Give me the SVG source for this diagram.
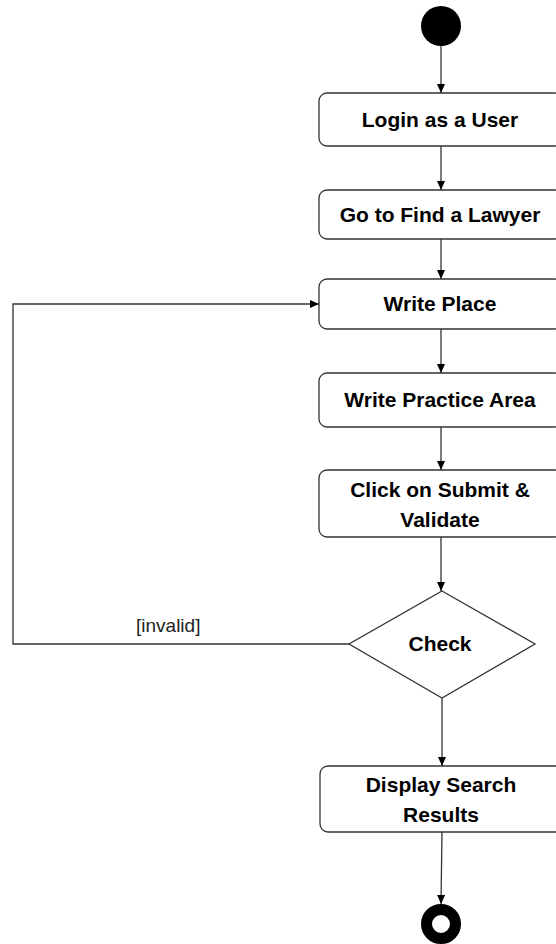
<svg xmlns="http://www.w3.org/2000/svg" width="556" height="944" viewBox="0 0 556 944">
<defs>
<style>
.box{fill:#fff;stroke:#333;stroke-width:1.3}
.lbl{font-family:"Liberation Sans",Arial,sans-serif;font-weight:bold;font-size:21px;fill:#000;text-anchor:middle}
.edge{fill:none;stroke:#333;stroke-width:1.3}
.guard{font-family:"Liberation Sans",Arial,sans-serif;font-size:19px;fill:#222}
</style>
<marker id="arr" markerWidth="10" markerHeight="10" refX="9" refY="5" orient="auto" markerUnits="userSpaceOnUse">
<path d="M0,1 L9,5 L0,9 Z" fill="#000"/>
</marker>
</defs>
<rect width="556" height="944" fill="#fff"/>
<g id="connectors">
<line class="edge" x1="441" y1="46" x2="441" y2="93" marker-end="url(#arr)"/>
<line class="edge" x1="441" y1="146" x2="441" y2="190" marker-end="url(#arr)"/>
<line class="edge" x1="441" y1="239" x2="441" y2="279" marker-end="url(#arr)"/>
<line class="edge" x1="441" y1="329" x2="441" y2="373" marker-end="url(#arr)"/>
<line class="edge" x1="441" y1="427" x2="441" y2="470" marker-end="url(#arr)"/>
<line class="edge" x1="441" y1="537" x2="441" y2="591" marker-end="url(#arr)"/>
<polyline class="edge" points="349,644 13,644 13,304 319,304" marker-end="url(#arr)"/>
<line class="edge" x1="442" y1="698" x2="442" y2="766" marker-end="url(#arr)"/>
<line class="edge" x1="442" y1="832" x2="441" y2="904" marker-end="url(#arr)"/>
<text class="guard" x="136" y="632">[invalid]</text>
</g>
<g id="start"><circle cx="441" cy="26" r="20" fill="#000"/></g>
<g id="login"><rect class="box" x="319" y="93" width="244" height="53" rx="8"/><text class="lbl" x="440" y="127">Login as a User</text></g>
<g id="find"><rect class="box" x="319" y="190" width="244" height="49" rx="8"/><text class="lbl" x="440" y="222">Go to Find a Lawyer</text></g>
<g id="place"><rect class="box" x="319" y="279" width="244" height="50" rx="8"/><text class="lbl" x="440" y="311">Write Place</text></g>
<g id="area"><rect class="box" x="319" y="373" width="244" height="54" rx="8"/><text class="lbl" x="440" y="407">Write Practice Area</text></g>
<g id="submit"><rect class="box" x="319" y="470" width="244" height="67" rx="8"/><text class="lbl" x="440" y="497">Click on Submit &amp;</text><text class="lbl" x="440" y="527">Validate</text></g>
<g id="check"><polygon class="box" points="442,591 535,644 442,698 349,644"/><text class="lbl" x="440" y="651">Check</text></g>
<g id="display"><rect class="box" x="320" y="766" width="244" height="66" rx="8"/><text class="lbl" x="441" y="792">Display Search</text><text class="lbl" x="441" y="822">Results</text></g>
<g id="end"><circle cx="441" cy="924" r="14.5" fill="#fff" stroke="#000" stroke-width="11"/></g>
</svg>
